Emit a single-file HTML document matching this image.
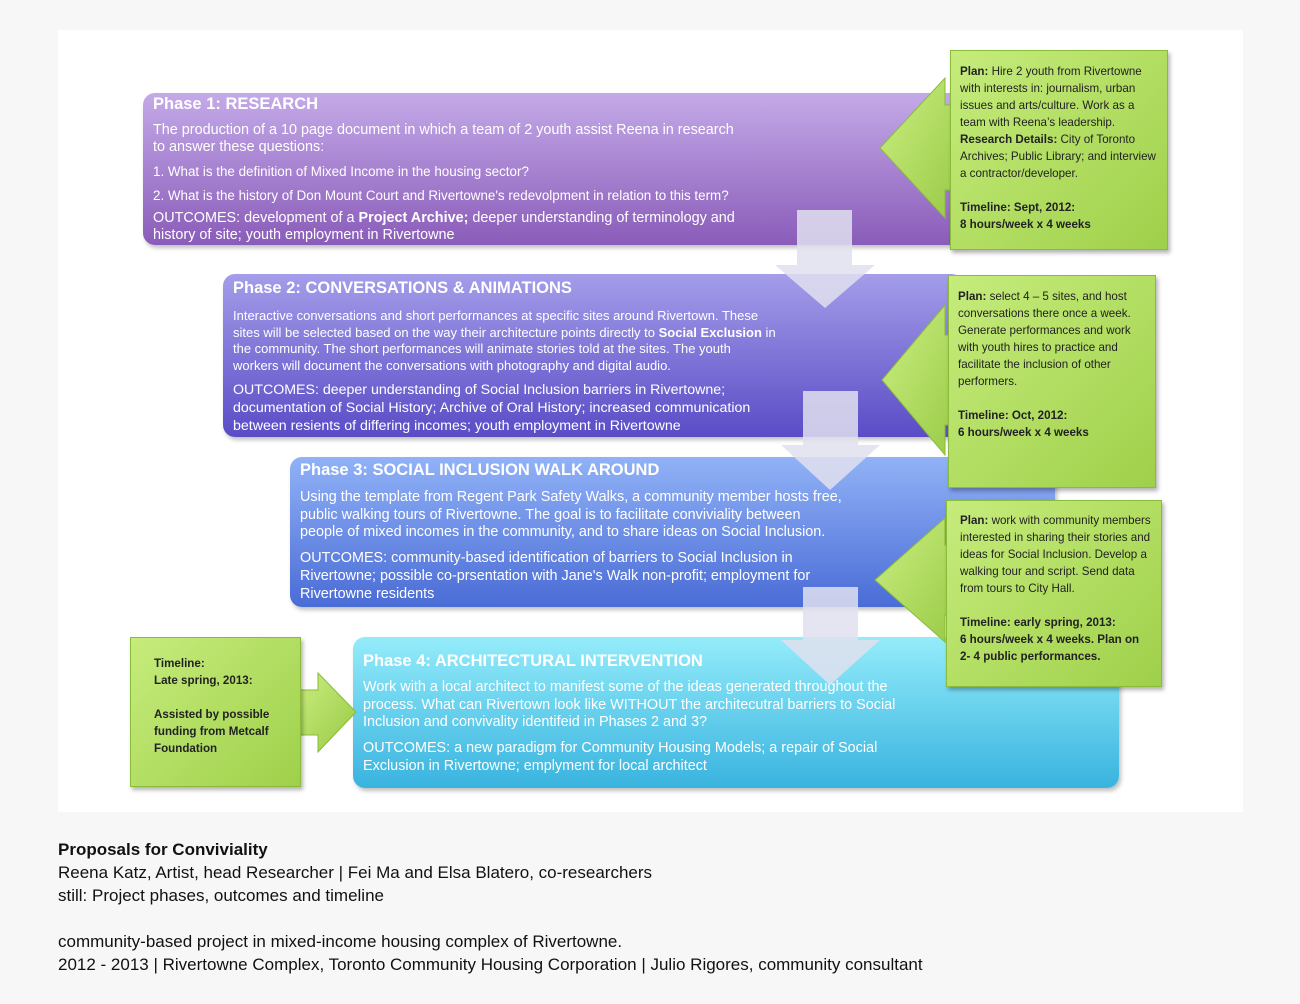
<!DOCTYPE html>
<html><head><meta charset="utf-8"><style>
body{margin:0;width:1300px;height:1004px;background:#f7f7f7;font-family:"Liberation Sans",sans-serif;position:relative;overflow:hidden}
.a{position:absolute}
.ph{position:absolute;border-radius:12px;color:#fff;box-shadow:2px 3px 4px rgba(0,0,0,.25);box-sizing:border-box;padding-left:10px}
.ph h3{margin:0;font-size:16.5px;font-weight:bold;line-height:20px}
.ph p{margin:0;line-height:17px}
.g{position:absolute;background:linear-gradient(135deg,#c6ec7c,#9fd04a);border:1px solid #8bbb3a;box-shadow:2px 3px 4px rgba(0,0,0,.3);box-sizing:border-box;font-size:11.6px;line-height:17px;color:#222;padding:12px 9px}
.cap{position:absolute;left:58px;font-size:17px;color:#111;line-height:23px}
</style></head><body>
<div class="a" style="left:58px;top:30px;width:1185px;height:782px;background:#fff"></div>

<div class="ph" style="left:143px;top:93px;width:830px;height:152px;background:linear-gradient(#c4aae8,#8a5cb9);padding-top:1px">
<h3>Phase 1: RESEARCH</h3>
<p style="font-size:14.4px;margin-top:8px">The production of a 10 page document in which a team of 2 youth assist Reena in research<br>to answer these questions:</p>
<p style="font-size:13.4px;margin-top:7px">1. What is the definition of Mixed Income in the housing sector?</p>
<p style="font-size:13.4px;margin-top:7px">2. What is the history of Don Mount Court and Rivertowne's redevolpment in relation to this term?</p>
<p style="font-size:14.4px;margin-top:6px">OUTCOMES: development of a <b>Project Archive;</b> deeper understanding of terminology and<br>history of site; youth employment in Rivertowne</p>
</div>

<div class="ph" style="left:223px;top:274px;width:740px;height:163px;background:linear-gradient(#a49de9,#5a4cc6);padding-top:4px">
<h3>Phase 2: CONVERSATIONS &amp; ANIMATIONS</h3>
<p style="font-size:13px;margin-top:10px;line-height:16.5px">Interactive conversations and short performances at specific sites around Rivertown.  These<br>sites will be selected based on the way their architecture points directly to <b>Social Exclusion</b> in<br>the community.  The short performances will animate stories told at the sites. The youth<br>workers will document the conversations with photography and digital audio.</p>
<p style="font-size:14.2px;margin-top:7px;line-height:18px">OUTCOMES: deeper understanding of Social Inclusion barriers in Rivertowne;<br>documentation of Social History; Archive of Oral History; increased communication<br>between resients of differing incomes; youth employment in Rivertowne</p>
</div>

<div class="ph" style="left:290px;top:457px;width:765px;height:150px;background:linear-gradient(#91b2f6,#4a6cd6);padding-top:3px">
<h3>Phase 3: SOCIAL INCLUSION WALK AROUND</h3>
<p style="font-size:14.4px;margin-top:9px;line-height:17.5px">Using the template from Regent Park Safety Walks, a community member hosts free,<br>public walking tours of Rivertowne.  The goal is to facilitate conviviality between<br>people of mixed incomes in the community, and to share ideas on Social Inclusion.</p>
<p style="font-size:14.4px;margin-top:7px;line-height:18px">OUTCOMES: community-based identification of barriers to Social Inclusion in<br>Rivertowne; possible co-prsentation with Jane's Walk non-profit; employment for<br>Rivertowne residents</p>
</div>

<div class="ph" style="left:353px;top:637px;width:766px;height:151px;background:linear-gradient(#94ecfa,#39b3df);padding-top:14px">
<h3>Phase 4: ARCHITECTURAL INTERVENTION</h3>
<p style="font-size:14.4px;margin-top:8px;line-height:17.5px">Work with a local architect to manifest some of the ideas generated throughout the<br>process.  What can Rivertown look like WITHOUT the architecutral barriers to Social<br>Inclusion and convivality identifeid in Phases 2 and 3?</p>
<p style="font-size:14.4px;margin-top:7px;line-height:18px">OUTCOMES: a new paradigm for Community Housing Models; a repair of Social<br>Exclusion in Rivertowne; emplyment for local architect</p>
</div>

<svg class="a" style="left:0;top:0" width="1300" height="1004">
<g fill="rgba(225,225,238,0.85)">
<polygon points="797,210 852,210 852,265 875,265 825,308 775,265 797,265"/>
<polygon points="803,391 858,391 858,445 880,445 830,490 781,445 803,445"/>
<polygon points="803,587 858,587 858,640 880,640 830,685 781,640 803,640"/>
</g>
<defs><linearGradient id="gg" x1="0" y1="0" x2="1" y2="1"><stop offset="0" stop-color="#cbef82"/><stop offset="1" stop-color="#98c944"/></linearGradient></defs>
<g fill="url(#gg)" stroke="#8bbb3a" stroke-width="1">
<polygon points="960,105 945,105 945,78 880,148 945,218 945,190 960,190"/>
<polygon points="960,335 945,335 945,305 882,380 945,455 945,425 960,425"/>
<polygon points="960,545 945,545 945,518 875,580 945,642 945,615 960,615"/>
<polygon points="295,690 318,690 318,673 356,712 318,752 318,735 295,735"/>
</g>
</svg>

<div class="g" style="left:950px;top:50px;width:218px;height:200px;padding-top:12px"><b>Plan:</b> Hire 2 youth from Rivertowne with interests in: journalism, urban issues and arts/culture.  Work as a team with Reena’s leadership.<br><b>Research Details:</b> City of Toronto Archives; Public Library; and interview a contractor/developer.<br><br><b>Timeline: Sept, 2012:<br>8 hours/week x 4 weeks</b></div>
<div class="g" style="left:948px;top:275px;width:208px;height:213px;padding-top:12px"><b>Plan:</b> select 4 – 5 sites, and host conversations there once a week.  Generate performances and work with youth hires to practice and facilitate the inclusion of other performers.<br><br><b>Timeline: Oct, 2012:<br>6 hours/week x 4 weeks</b></div>
<div class="g" style="left:946px;top:500px;width:216px;height:187px;padding-top:11px;padding-left:13px"><b>Plan:</b> work with community members interested in sharing their stories and ideas for Social Inclusion.  Develop a walking tour and script.  Send data from tours to City Hall.<br><br><b>Timeline: early spring, 2013:<br>6 hours/week x 4 weeks.  Plan on 2- 4 public performances.</b></div>
<div class="g" style="left:130px;top:637px;width:171px;height:150px;padding:17px 23px"><b>Timeline:<br>Late spring, 2013:<br><br>Assisted by possible funding from Metcalf Foundation</b></div>

<div class="cap" style="top:838px"><b>Proposals for Conviviality</b><br>Reena Katz, Artist, head Researcher | Fei Ma and Elsa Blatero, co-researchers<br>still: Project phases, outcomes and timeline</div>
<div class="cap" style="top:930px">community-based project in mixed-income housing complex of Rivertowne.<br>2012 - 2013 | Rivertowne Complex, Toronto Community Housing Corporation | Julio Rigores, community consultant</div>
</body></html>
